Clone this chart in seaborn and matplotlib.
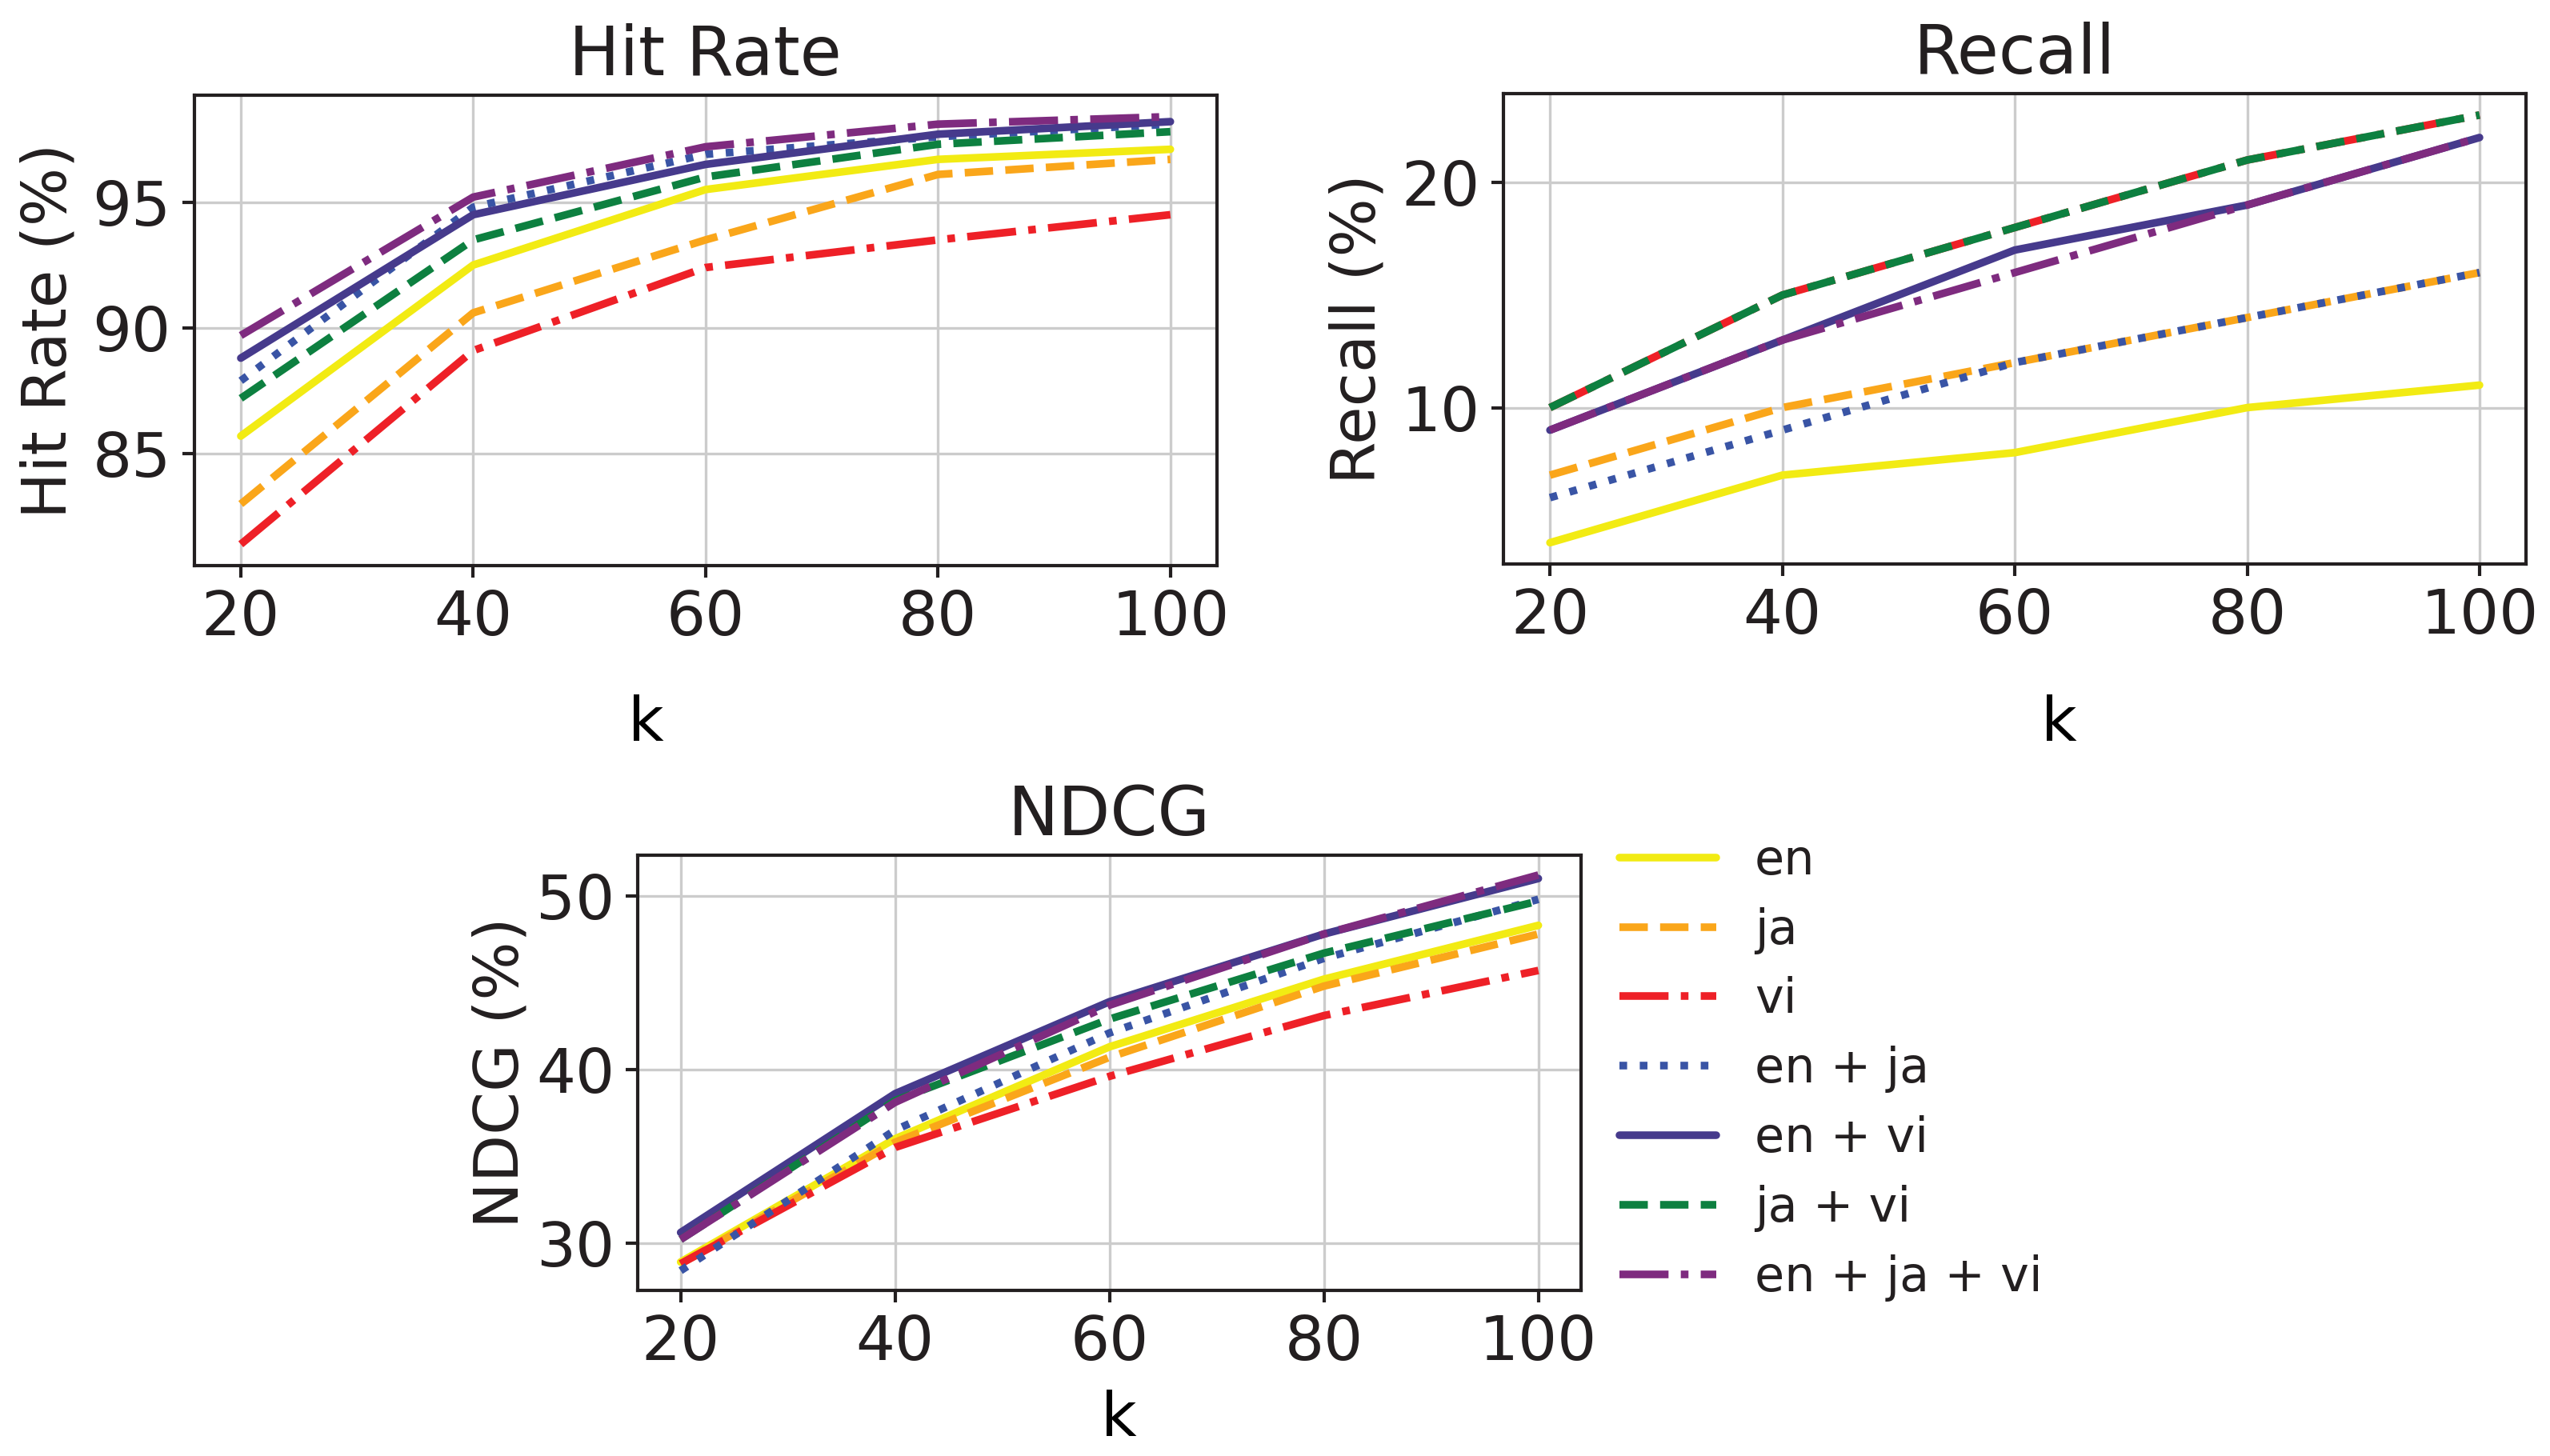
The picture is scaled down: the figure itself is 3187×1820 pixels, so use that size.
import matplotlib
matplotlib.use("Agg")
import matplotlib.pyplot as plt
import seaborn as sns

k_values = [20, 40, 60, 80, 100]
series_names = ["en", "ja", "vi", "en + ja", "en + vi", "ja + vi", "en + ja + vi"]

hit_rate = {
    "en": [85.7, 92.5, 95.5, 96.7, 97.1],
    "ja": [83.0, 90.6, 93.5, 96.1, 96.7],
    "vi": [81.4, 89.1, 92.4, 93.5, 94.5],
    "en + ja": [87.9, 94.8, 96.9, 97.6, 98.1],
    "en + vi": [88.8, 94.5, 96.5, 97.7, 98.2],
    "ja + vi": [87.2, 93.5, 96.0, 97.3, 97.8],
    "en + ja + vi": [89.7, 95.2, 97.2, 98.1, 98.4],
}
recall = {
    "en": [4, 7, 8, 10, 11],
    "ja": [7, 10, 12, 14, 16],
    "vi": [10, 15, 18, 21, 23],
    "en + ja": [6, 9, 12, 14, 16],
    "en + vi": [9, 13, 17, 19, 22],
    "ja + vi": [10, 15, 18, 21, 23],
    "en + ja + vi": [9, 13, 16, 19, 22],
}
ndcg = {
    "en": [28.9, 36.0, 41.3, 45.2, 48.3],
    "ja": [28.8, 35.8, 40.7, 44.8, 47.8],
    "vi": [28.8, 35.5, 39.6, 43.1, 45.7],
    "en + ja": [28.4, 36.5, 42.1, 46.4, 49.8],
    "en + vi": [30.6, 38.6, 43.9, 47.8, 51.0],
    "ja + vi": [30.2, 38.2, 42.9, 46.7, 49.7],
    "en + ja + vi": [30.2, 38.1, 43.7, 47.8, 51.2],
}

colors = ["#f2eb13", "#faa61a", "#ee2027", "#3954a5", "#463a8c", "#0d8040", "#7e2b7f"]
styles = ["-", "--", "-.", ":", "-", "--", "-."]

ink = "#231f20"
sns.set_style("ticks", {
    "axes.grid": True,
    "grid.color": "#cccccc",
    "axes.edgecolor": ink,
    "text.color": ink,
    "axes.labelcolor": ink,
    "xtick.color": ink,
    "ytick.color": ink,
})
plt.rcParams["font.family"] = ["DejaVu Sans"]
plt.rcParams["axes.linewidth"] = 1.0
plt.rcParams["grid.linewidth"] = 0.8
plt.rcParams["xtick.major.size"] = 3.5
plt.rcParams["ytick.major.size"] = 3.5
plt.rcParams["xtick.major.width"] = 1.0
plt.rcParams["ytick.major.width"] = 1.0

fs = 18.5
fig = plt.figure(figsize=(3187 / 300, 1820 / 300), dpi=300)
ax_hit = fig.add_axes([0.0762, 0.6115, 0.401, 0.3231])
ax_rec = fig.add_axes([0.5896, 0.6126, 0.401, 0.3231])
ax_ndcg = fig.add_axes([0.2501, 0.1137, 0.370, 0.2989])

# (axes, data, title, y label, y ticks, k label position, y label pad)
panels = [
    (ax_hit, hit_rate, "Hit Rate", "Hit Rate (%)", [85, 90, 95], (0.442, -0.274), 4.0),
    (ax_rec, recall, "Recall", "Recall (%)", [10, 20], (0.543, -0.277), 4.0),
    (ax_ndcg, ndcg, "NDCG", "NDCG (%)", [30, 40, 50], (0.510, -0.228), 1.4),
]

for ax, data, title, ylabel, yticks, kpos, ypad in panels:
    for name, c, ls in zip(series_names, colors, styles):
        sns.lineplot(x=k_values, y=data[name], ax=ax, color=c, linestyle=ls,
                     linewidth=2.3, label=name, legend=False)
    ax.set_title(title, fontsize=20.3)
    ax.set_xlabel("k", fontsize=fs, color="black")
    ax.xaxis.set_label_coords(*kpos)
    ax.set_ylabel(ylabel, fontsize=fs, labelpad=ypad)
    ax.set_xticks(k_values)
    ax.set_yticks(yticks)
    ax.tick_params(labelsize=fs)
    for s in ax.spines.values():
        s.set_visible(True)

handles, labels = ax_ndcg.get_legend_handles_labels()
fig.legend(handles, labels, loc="center left", bbox_to_anchor=(0.618, 0.2655),
           frameon=False, fontsize=14.5, labelspacing=0.46,
           handlelength=2.0, handletextpad=0.8)

fig.savefig("out.png", dpi=300)
